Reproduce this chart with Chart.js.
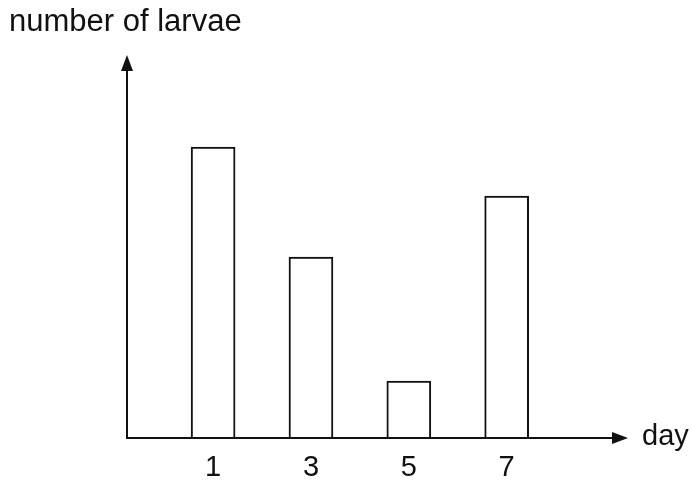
<!DOCTYPE html>
<html>
<head>
<meta charset="utf-8">
<script src="https://cdn.jsdelivr.net/npm/chart.js@4"></script>
<style>
  html, body { margin: 0; padding: 0; background: #fff; }
  #wrap { width: 692px; height: 484px; }
</style>
</head>
<body>
<div id="wrap"><canvas id="larvaeChart"></canvas></div>
<script>
const days = [1, 3, 5, 7]
const larvae = [29.1, 18.1, 5.7, 24.2]
const yTitle = 'number of larvae'
const xTitle = 'day'

const FONT = '"Liberation Sans", Arial, sans-serif'
const INK = '#111'

// axes drawn by hand so both ends get an arrow head
const arrowAxes = {
  id: 'arrowAxes',
  afterDatasetsDraw(chart) {
    const { ctx, chartArea } = chart
    const x0 = chartArea.left
    const y0 = chart.scales.y.getPixelForValue(0)
    const top = chartArea.top
    const right = chartArea.right
    ctx.save()
    ctx.strokeStyle = INK
    ctx.fillStyle = INK
    ctx.lineWidth = 2
    ctx.beginPath()
    ctx.moveTo(x0, y0)
    ctx.lineTo(x0, top + 10)
    ctx.moveTo(x0 - 1, y0)
    ctx.lineTo(right - 10, y0)
    ctx.stroke()

    ctx.beginPath()
    ctx.moveTo(x0, top)
    ctx.lineTo(x0 - 6, top + 16)
    ctx.lineTo(x0 + 6, top + 16)
    ctx.closePath()
    ctx.fill()

    ctx.beginPath()
    ctx.moveTo(right, y0)
    ctx.lineTo(right - 16, y0 - 6)
    ctx.lineTo(right - 16, y0 + 6)
    ctx.closePath()
    ctx.fill()

    ctx.textAlign = 'left'
    ctx.textBaseline = 'alphabetic'
    ctx.font = '31px ' + FONT
    ctx.fillText(yTitle, 9, 31)
    ctx.font = '29px ' + FONT
    ctx.fillText(xTitle, right + 14, y0 + 7)
    ctx.restore()
  }
}

new Chart(document.getElementById('larvaeChart'), {
  type: 'bar',
  data: {
    datasets: [{
      data: days.map((d, i) => ({ x: d, y: larvae[i] })),
      backgroundColor: '#fff',
      borderColor: INK,
      borderWidth: 2,
      barThickness: 44
    }]
  },
  options: {
    responsive: true,
    maintainAspectRatio: false,
    animation: false,
    layout: { padding: { left: 127, right: 64, top: 55, bottom: 0 } },
    plugins: {
      legend: { display: false },
      tooltip: { enabled: false }
    },
    scales: {
      x: {
        type: 'linear',
        offset: false,
        min: -0.76,
        max: 9.48,
        afterBuildTicks: (scale) => {
          scale.ticks = days.map(v => ({ value: v }))
        },
        afterFit: (scale) => {
          scale.height = 46
        },
        grid: { display: false, drawTicks: false },
        border: { display: false },
        ticks: {
          color: INK,
          padding: 13,
          font: { family: FONT, size: 29 },
          callback: (v) => String(v)
        }
      },
      y: {
        display: false,
        min: 0,
        max: 38.3
      }
    }
  },
  plugins: [arrowAxes]
})
</script>
</body>
</html>
